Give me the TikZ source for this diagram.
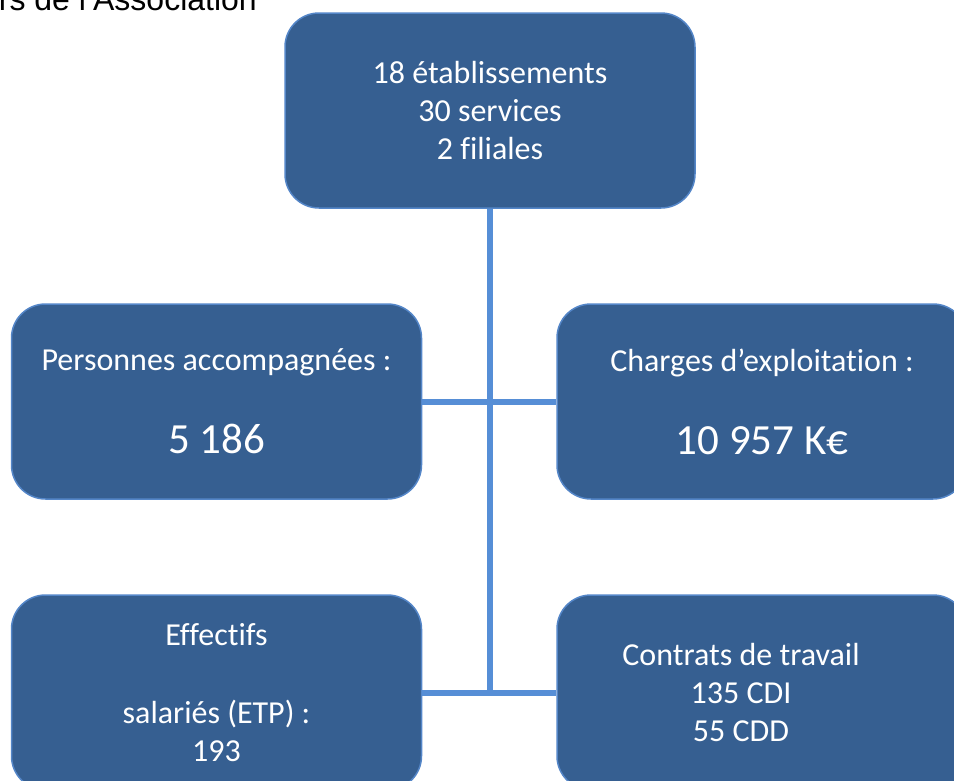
\documentclass[tikz,border=0pt]{standalone}
\usepackage{fontspec}
\setmainfont{Carlito}[Ligatures=NoCommon]
\newfontfamily\headfont{Liberation Sans}
\usepackage{tikz}
\definecolor{boxblue}{RGB}{54,95,145}
\definecolor{edgeblue}{RGB}{84,134,200}
\definecolor{linkblue}{RGB}{86,142,214}
\newcommand\bignum{\fontsize{43}{52}\selectfont}
\tikzset{
    keybox/.style={
        draw=edgeblue, line width=1.5pt, fill=boxblue,
        rounded corners=34pt, minimum width=410pt, minimum height=195pt,
        text=white, align=center, font=\fontsize{32}{38}\selectfont
    },
    boxtext/.style={text=white, align=center, font=\fontsize{32}{38}\selectfont},
    link/.style={linkblue, line width=6pt},
}

\begin{document}
\begin{tikzpicture}[x=1pt, y=-1pt]
    \useasboundingbox (0,0) rectangle (954,780);
    % title, cut at the top of the page
    \node[anchor=base east, inner sep=0pt, font=\headfont\fontsize{32}{38}\selectfont] (head) at (257,10) {rs de l’Association};

    \node[keybox] (sites) at (490,110.5) {18 établissements\\30 services\\2 filiales};
    \node[keybox] (persons) at (216.5,401.5) {Personnes accompagnées :\\[45pt]{\bignum 5 186}};
    \node[keybox] (charges) at (762,401.5) {Charges d’exploitation :\\[45pt]{\bignum 10 957 K€}};
    \node[keybox] (staff) at (216.5,692.5) {Effectifs\\[40pt]salariés (ETP) :\\193};
    \node[keybox] (contracts) at (762,692.5) {};
    \node[boxtext] (contractstext) at ([xshift=-21pt]contracts.center) {Contrats de travail\\135 CDI\\55 CDD};

    % connectors
    \draw[link] (sites.south) -- ([yshift=-3pt]sites.south |- staff.east);
    \draw[link] (persons.east) -- (charges.west);
    \draw[link] (staff.east) -- (contracts.west);
\end{tikzpicture}
\end{document}
